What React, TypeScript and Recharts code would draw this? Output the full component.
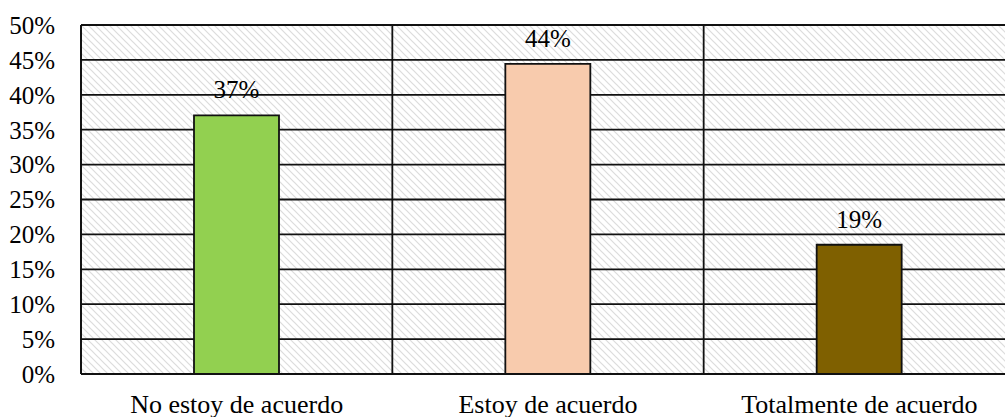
import { Bar, BarChart, CartesianGrid, Cell, LabelList, XAxis, YAxis } from 'recharts';

const categories = ['No estoy de acuerdo', 'Estoy de acuerdo', 'Totalmente de acuerdo'];
const values = [37.04, 44.44, 18.52];
const barColors = ['#92D050', '#F8CBAD', '#7F6000'];
const yTicks = [0, 5, 10, 15, 20, 25, 30, 35, 40, 45, 50];

const data = categories.map((name, i) => ({ name, value: values[i] }));

const font = 'Liberation Serif';

// vertical grid lines on the category boundaries, taken from the x axis scale
const bandEdges = ({ xAxis }: any) => {
  const s = xAxis && xAxis.scale;
  if (!s) return [];
  const call = (c: string) =>
    typeof s === 'function' ? s(c) : typeof s.map === 'function' ? s.map(c) : undefined;
  let bw = typeof s.bandwidth === 'function' ? s.bandwidth() : 0;
  let xs = categories.map(call);
  if (xs.some((x) => typeof x !== 'number') || !bw) {
    const r = typeof s.range === 'function' ? s.range() : [0, 0];
    const r0 = Math.min(r[0], r[1]);
    const r1 = Math.max(r[0], r[1]);
    bw = (r1 - r0) / categories.length;
    xs = categories.map((_, i) => r0 + i * bw);
  }
  return [...xs, (xs[xs.length - 1] as number) + bw];
};

export default function App() {
  return (
    <div
      style={{
        position: 'absolute',
        left: 0,
        top: 0,
        width: 1005,
        height: 417,
        overflow: 'hidden',
        background: '#fff',
        fontFamily: font,
      }}
    >
      <BarChart
        width={1020}
        height={417}
        data={data}
        margin={{ top: 25, right: 5, left: 0, bottom: 0 }}
        style={{ fontFamily: font }}
      >
        <defs>
          <pattern id="hatch" width="7" height="7" patternUnits="userSpaceOnUse">
            <rect width="7" height="7" fill="#fff" />
            <path d="M-2,-2 L9,9 M-2,5 L2,9 M5,-2 L9,2" stroke="#dcdcdc" strokeWidth="1.2" />
          </pattern>
        </defs>
        <CartesianGrid
          fill="url(#hatch)"
          fillOpacity={1}
          stroke="#111"
          strokeWidth={1.8}
          verticalCoordinatesGenerator={bandEdges}
        />
        <XAxis
          dataKey="name"
          tickLine={false}
          axisLine={{ stroke: '#111', strokeWidth: 1.8 }}
          height={43}
          tickSize={0}
          tickMargin={21}
          tick={{ fill: '#000', fontSize: 26, fontFamily: font }}
          interval={0}
        />
        <YAxis
          domain={[0, 50]}
          ticks={yTicks}
          width={81}
          tickLine={false}
          axisLine={{ stroke: '#111', strokeWidth: 1.8 }}
          tickSize={0}
          tickMargin={26}
          tickFormatter={(v) => `${v}%`}
          tick={{ fill: '#000', fontSize: 25, fontFamily: font }}
        />
        <Bar dataKey="value" barSize={85} stroke="#111" strokeWidth={1.8} isAnimationActive={false}>
          {data.map((d, i) => (
            <Cell key={d.name} fill={barColors[i]} />
          ))}
          <LabelList
            dataKey="value"
            position="top"
            offset={17}
            formatter={(v: any) => `${Math.round(Number(v))}%`}
            style={{ fill: '#000', fontSize: 25, fontFamily: font }}
          />
        </Bar>
      </BarChart>
    </div>
  );
}
